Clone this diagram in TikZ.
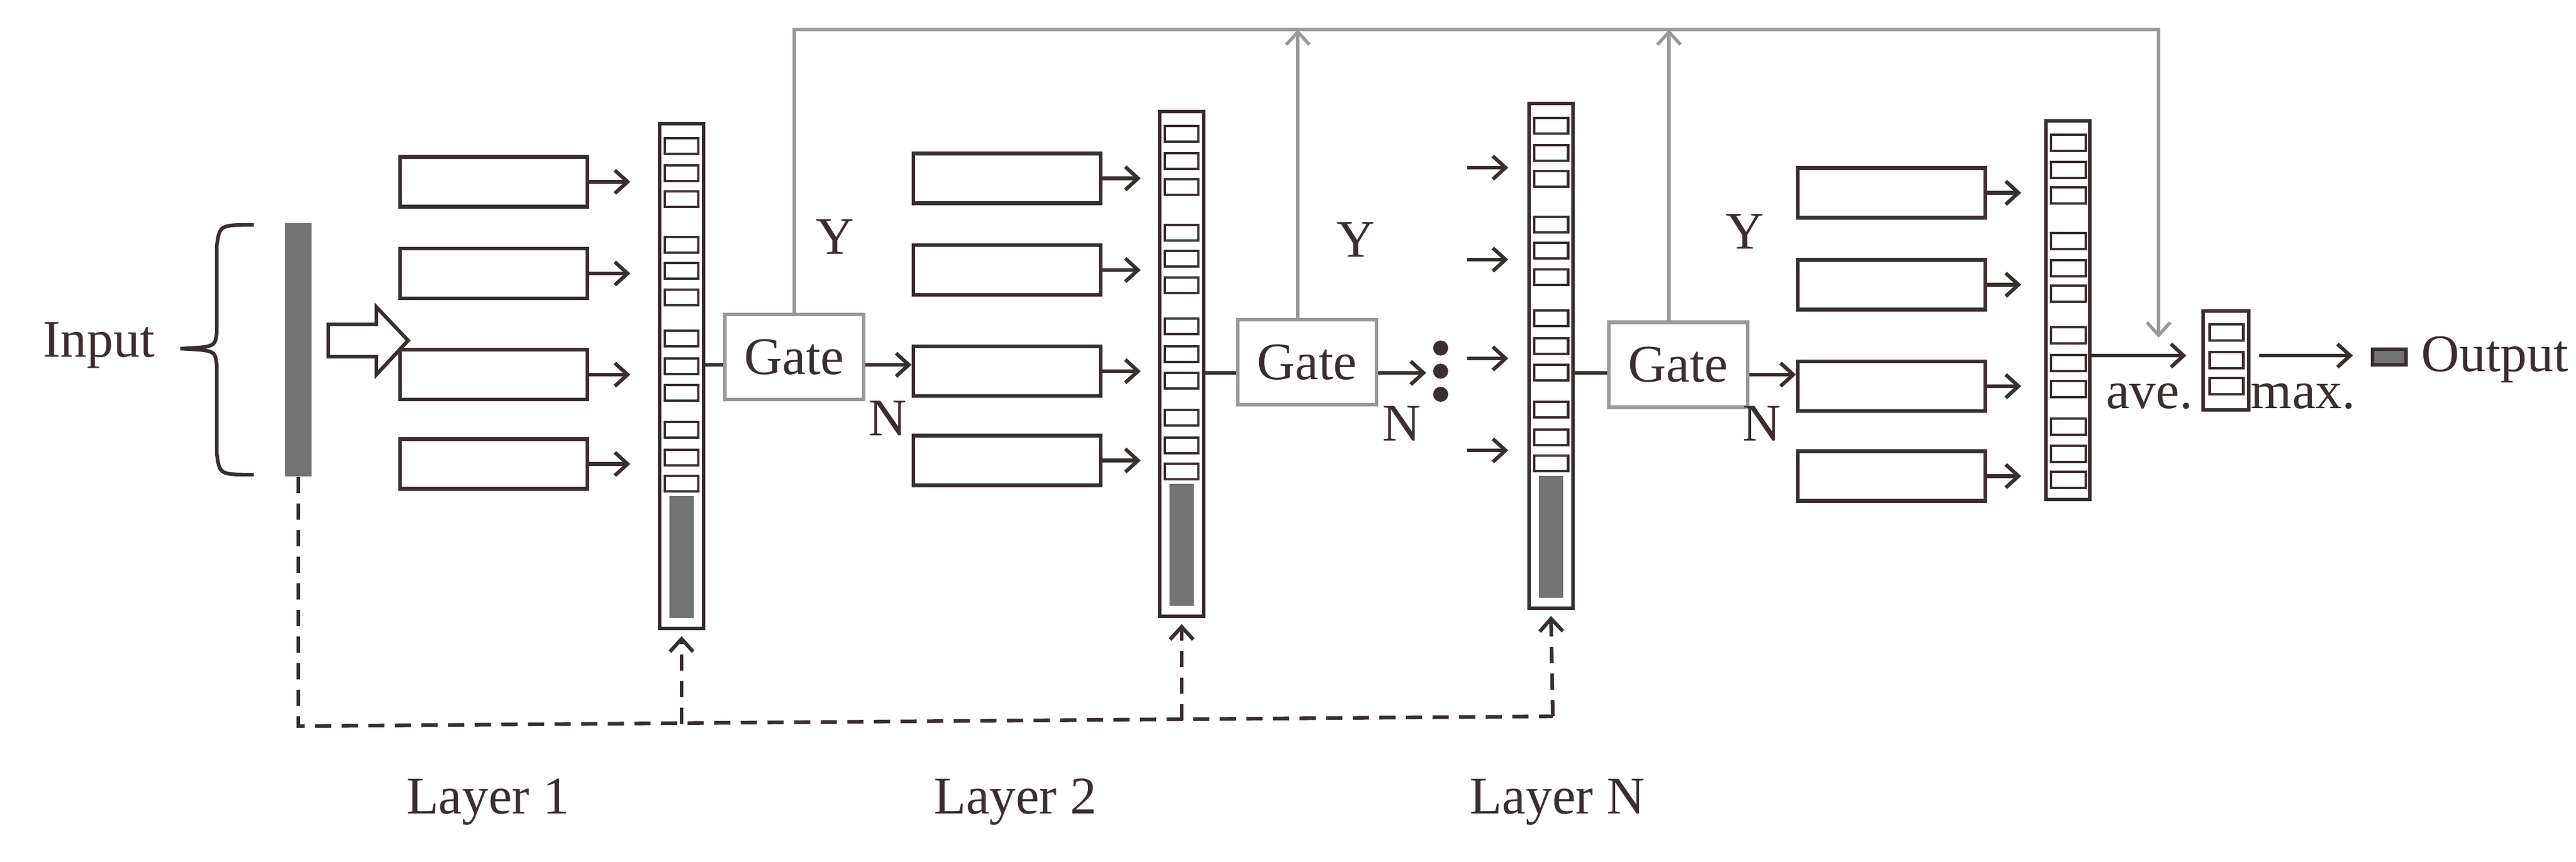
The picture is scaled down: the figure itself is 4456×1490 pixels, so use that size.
\documentclass[tikz,border=0pt]{standalone}
\usepackage{fontspec}
\setmainfont{Liberation Serif}
\usetikzlibrary{arrows.meta}
\definecolor{lc}{HTML}{3A2E2E}
\definecolor{gf}{HTML}{737373}
\definecolor{gl}{HTML}{999999}
\begin{document}
\begin{tikzpicture}[x=0.01cm,y=-0.01cm,
  lw/.style={line width=1.8pt,draw=lc},
  box/.style={lw,minimum width=3.24cm,minimum height=0.86cm,inner sep=0},
  col/.style={lw,minimum width=0.76cm,inner sep=0},
  gate/.style={draw=gl,line width=1.8pt,minimum width=2.4cm,minimum height=1.47cm,inner sep=0},
  arr/.style={lw,-{Straight Barb[length=0.22cm,width=0.4cm,line width=1.8pt]}},
  garr/.style={draw=gl,line width=1.6pt,-{Straight Barb[length=0.22cm,width=0.4cm,line width=1.6pt]}},
  txt/.style={font=\fontsize{26}{30}\selectfont,text=lc,inner sep=0}]
\useasboundingbox (0,0) rectangle (4456,1490);
% input
\node[txt] (input) at (171,597) {Input};
\draw[lw] (439,389) .. controls (380,389) .. (375,425) -- (375,575) .. controls (372,600) .. (312,603) .. controls (372,606) .. (375,632) -- (375,785) .. controls (380,821) .. (439,821);
\node[fill=gf,minimum width=0.46cm,minimum height=4.38cm,inner sep=0] (bar) at (516,605) {};
\draw[lw,fill=white] (568,561) -- (651,561) -- (651,531) -- (706,589) -- (651,648) -- (651,617) -- (568,617) -- cycle;
% layer 1
\foreach \i/\y in {1/314.5,2/473,3/648,4/802.5}{
  \node[box] (a\i) at (854,\y) {};
  \draw[arr] (a\i.east) -- ++(71,0);}
\node[col,minimum height=8.73cm] (c1) at (1179,650.5) {};
% layer 2
\foreach \i/\y in {1/308.5,2/467,3/642,4/796.5}{
  \node[box] (b\i) at (1742,\y) {};
  \draw[arr] (b\i.east) -- ++(66,0);}
\node[col,minimum height=8.73cm] (c2) at (2044,629.5) {};
% layer N
\foreach \y in {290,449,620,779}{ \draw[arr] (2538,\y) -- (2609,\y);}
\node[col,minimum height=8.73cm] (c3) at (2683,615.5) {};
% cells
\foreach \c/\t in {c1/214,c2/193,c3/179}{
  \foreach \o in {25,72,117,196,241,287,358,406,452,516,564,609}{
    \draw[line width=1.4pt,draw=lc] ([xshift=-0.29cm]\c.center |- 0,\t+\o) rectangle ([xshift=0.29cm]\c.center |- 0,\t+\o+27);}
  \fill[gf] ([xshift=-0.21cm]\c.center |- 0,\t+644) rectangle ([xshift=0.21cm]\c.center |- 0,\t+855);}
% final
\foreach \i/\y in {1/333.5,2/492.5,3/668,4/823.5}{
  \node[box] (d\i) at (3272,\y) {};
  \draw[arr] (d\i.east) -- ++(59,0);}
\node[col,minimum height=6.55cm] (c4) at (3577,536.5) {};
\foreach \o in {233,280,324,403,450,494,566,614,659,724,771,816}{
  \draw[line width=1.4pt,draw=lc] (3548,\o) rectangle (3608,\o+28);}
% gates
\node[gate] (g1) at (1374,617.5) {}; \node[txt] at (g1) {Gate};
\node[gate] (g2) at (2261,626.5) {}; \node[txt] at (g2) {Gate};
\node[gate] (g3) at (2903,631) {}; \node[txt] at (g3) {Gate};
\draw[lw] (c1.east |- 0,631) -- (g1.west |- 0,631);
\draw[arr] (g1.east |- 0,631) -- (b3.west |- 0,631);
\draw[lw] (c2.east |- 0,645) -- (g2.west |- 0,645);
\draw[arr] (g2.east |- 0,645) -- (2467,645);
\draw[lw] (c3.east |- 0,645) -- (g3.west |- 0,645);
\draw[arr] (g3.east |- 0,648) -- (d3.west |- 0,648);
\foreach \y in {602,642,682}{ \fill[lc] (2492,\y) circle (0.13cm);}
\node[txt] at (1444,410) {Y}; \node[txt] at (1535,724) {N};
\node[txt] at (2345,415) {Y}; \node[txt] at (2424,733) {N};
\node[txt] at (3018,401) {Y}; \node[txt] at (3047,733) {N};
% top grey
\coordinate (tr) at (3734,51);
\draw[garr] (g1.north) -- (g1.north |- tr) -- (tr) -- (3734,584);
\draw[garr] (2245,551) -- (2245,51);
\draw[garr] (2887,557) -- (2887,51);
% output
\node[lw,minimum width=0.79cm,minimum height=1.71cm,inner sep=0] (c5) at (3850.5,623.5) {};
\foreach \o in {561,609,654}{ \draw[line width=1.4pt,draw=lc] (3822,\o) rectangle (3880,\o+28);}
\draw[arr] (c4.east |- 0,615) -- (3782,615);
\draw[arr] (3908,615) -- (4070,615);
\node[txt] at (3718,686) {ave.};
\node[txt] at (3984,686) {max.};
\node[draw=lc,line width=1.6pt,fill=gf,minimum width=0.58cm,minimum height=0.27cm,inner sep=0] (out) at (4133,617.5) {};
\node[txt,anchor=west] at (4188,622) {Output};
% dashed
\coordinate (dl) at (516,1256);
\draw[lw,dashed,dash pattern=on 0.28cm off 0.18cm] (bar.south) -- (dl) -- (2686,1239);
\draw[arr,dashed,dash pattern=on 0.28cm off 0.18cm] (1179,1252) -- ([yshift=-0.1cm]c1.south);
\draw[arr,dashed,dash pattern=on 0.28cm off 0.18cm] (2044,1246) -- ([yshift=-0.1cm]c2.south);
\draw[arr,dashed,dash pattern=on 0.28cm off 0.18cm] (2686,1239) -- ([yshift=-0.1cm]c3.south);
\node[txt] at (844,1387) {Layer 1};
\node[txt] at (1756,1387) {Layer 2};
\node[txt] at (2694,1387) {Layer N};
\end{tikzpicture}
\end{document}
